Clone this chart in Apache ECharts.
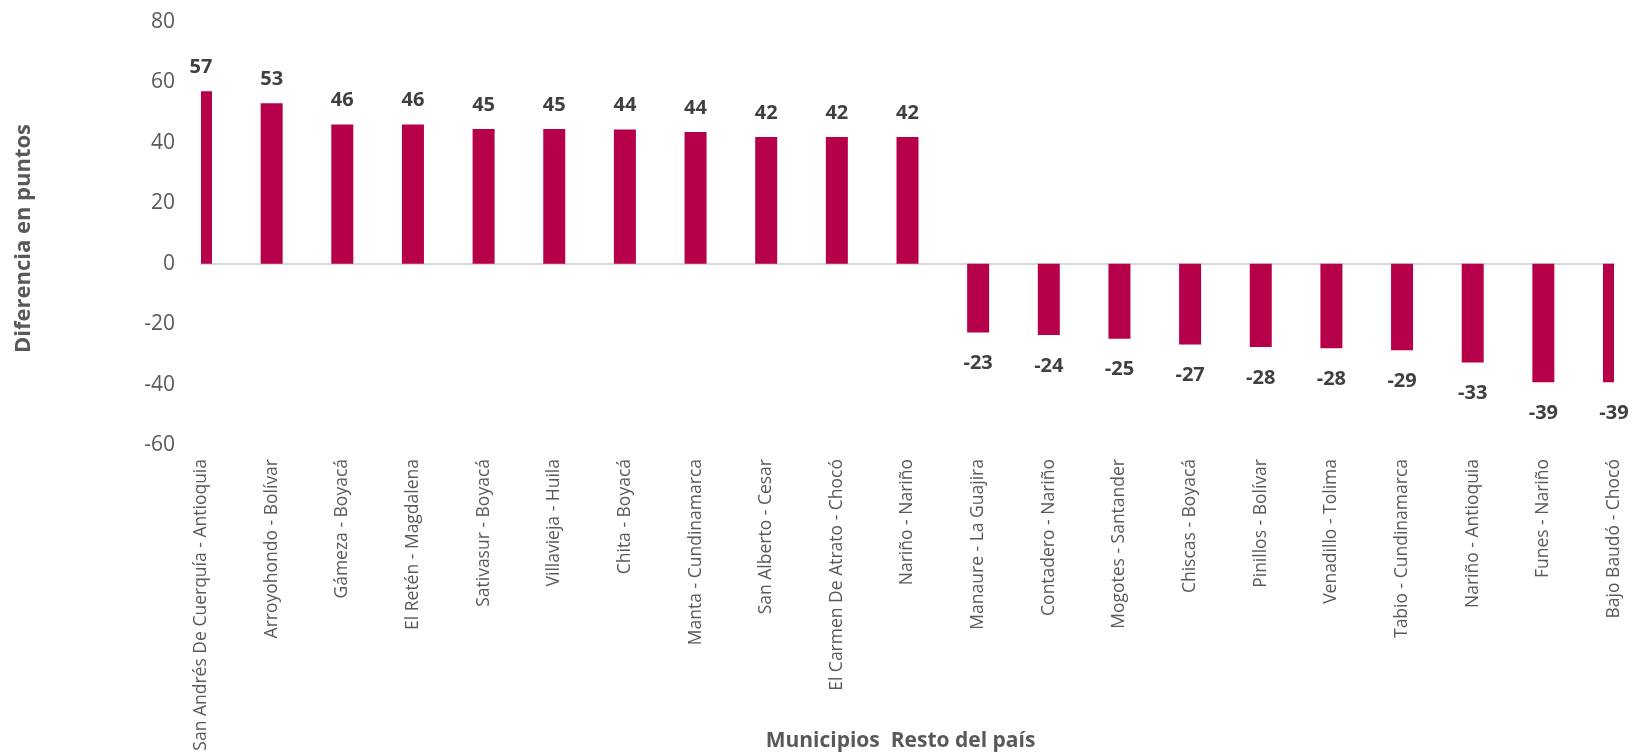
<!DOCTYPE html>
<html>
<head>
<meta charset="utf-8">
<script src="https://cdn.jsdelivr.net/npm/echarts@6/dist/echarts.min.js"></script>
<style>
  html, body { margin: 0; padding: 0; background: #ffffff; }
  #chart { width: 1633px; height: 755px; }
</style>
</head>
<body>
<div id="chart"></div>
<script>
// municipios con mayor diferencia (positivos y negativos)
var municipios = [
  'San Andrés De Cuerquía - Antioquia',
  'Arroyohondo - Bolívar',
  'Gámeza - Boyacá',
  'El Retén - Magdalena',
  'Sativasur - Boyacá',
  'Villavieja - Huila',
  'Chita - Boyacá',
  'Manta - Cundinamarca',
  'San Alberto - Cesar',
  'El Carmen De Atrato - Chocó',
  'Nariño - Nariño',
  'Manaure - La Guajira',
  'Contadero - Nariño',
  'Mogotes - Santander',
  'Chiscas - Boyacá',
  'Pinillos - Bolívar',
  'Venadillo - Tolima',
  'Tabio - Cundinamarca',
  'Nariño - Antioquia',
  'Funes - Nariño',
  'Bajo Baudó - Chocó'
]
var diferencia = [57.1, 53.1, 46.1, 46.1, 44.6, 44.6, 44.4, 43.6, 41.9, 41.9, 41.9,
  -22.8, -23.6, -24.8, -26.7, -27.6, -28.0, -28.6, -32.7, -39.2, -39.2]
var yTicks = { min: -60, max: 80, step: 20 }

var BAR_W = 22
var chart = echarts.init(document.getElementById('chart'), null, { renderer: 'canvas' })

// solo etiquetas, las barras visibles las pinta la serie custom (recortadas al grid)
var labelData = diferencia.map(function(v) {
  return {
    value: v,
    label: {
      position: v < 0 ? 'bottom' : 'top',
      distance: v < 0 ? 21 : 14
    }
  }
})

var option = {
  backgroundColor: '#ffffff',
  animation: false,
  grid: {
    left: 201,
    right: 19,
    top: 22,
    bottom: 310,
    containLabel: false,
    outerBoundsMode: 'none'
  },
  xAxis: [{
    type: 'category',
    data: municipios,
    boundaryGap: false,
    name: 'Municipios  Resto del país',
    nameLocation: 'middle',
    nameGap: 286,
    nameMoveOverlap: false,
    nameTextStyle: {
      fontFamily: 'Open Sans',
      fontWeight: 'bold',
      fontSize: 21,
      color: '#595959',
      padding: [0, 14, 0, 0]
    },
    axisLine: { show: false, onZero: false },
    axisTick: { show: false },
    splitLine: { show: false },
    axisLabel: {
      interval: 0,
      rotate: 90,
      margin: 14,
      fontFamily: 'Open Sans',
      fontSize: 17.5,
      color: '#595959'
    }
  }, {
    // línea del cero
    type: 'category',
    data: municipios,
    boundaryGap: false,
    position: 'bottom',
    axisLine: { show: true, onZero: true, lineStyle: { color: '#d9d9d9', width: 2 } },
    axisTick: { show: false },
    axisLabel: { show: false },
    splitLine: { show: false }
  }],
  yAxis: {
    type: 'value',
    min: yTicks.min,
    max: yTicks.max,
    interval: yTicks.step,
    name: 'Diferencia en puntos',
    nameLocation: 'middle',
    nameGap: 166,
    nameMoveOverlap: false,
    nameTextStyle: {
      fontFamily: 'Open Sans',
      fontWeight: 'bold',
      fontSize: 22,
      color: '#595959',
      padding: [0, 10, 0, 0]
    },
    axisLine: { show: false },
    axisTick: { show: false },
    splitLine: { show: false },
    axisLabel: {
      margin: 26,
      fontFamily: 'Open Sans',
      fontSize: 21,
      color: '#595959'
    }
  },
  series: [{
    type: 'custom',
    xAxisIndex: 0,
    z: 2,
    renderItem: function(params, api) {
      var top = api.coord([api.value(0), api.value(1)])
      var base = api.coord([api.value(0), 0])
      var rect = echarts.graphic.clipRectByRect({
        x: top[0] - BAR_W / 2,
        y: Math.min(top[1], base[1]),
        width: BAR_W,
        height: Math.abs(base[1] - top[1])
      }, {
        x: params.coordSys.x,
        y: params.coordSys.y,
        width: params.coordSys.width,
        height: params.coordSys.height
      })
      return rect && {
        type: 'rect',
        shape: rect,
        style: { fill: '#b7004a' }
      }
    },
    encode: { x: 0, y: 1 },
    data: diferencia.map(function(v, i) { return [i, v] })
  }, {
    type: 'bar',
    xAxisIndex: 0,
    barWidth: BAR_W,
    z: 3,
    silent: true,
    itemStyle: { color: 'rgba(0,0,0,0)' },
    label: {
      show: true,
      fontFamily: 'Open Sans',
      fontWeight: 'bold',
      fontSize: 20,
      color: '#404040',
      formatter: function(p) {
        return Math.round(p.value)
      }
    },
    data: labelData
  }]
}

chart.setOption(option)
</script>
</body>
</html>
